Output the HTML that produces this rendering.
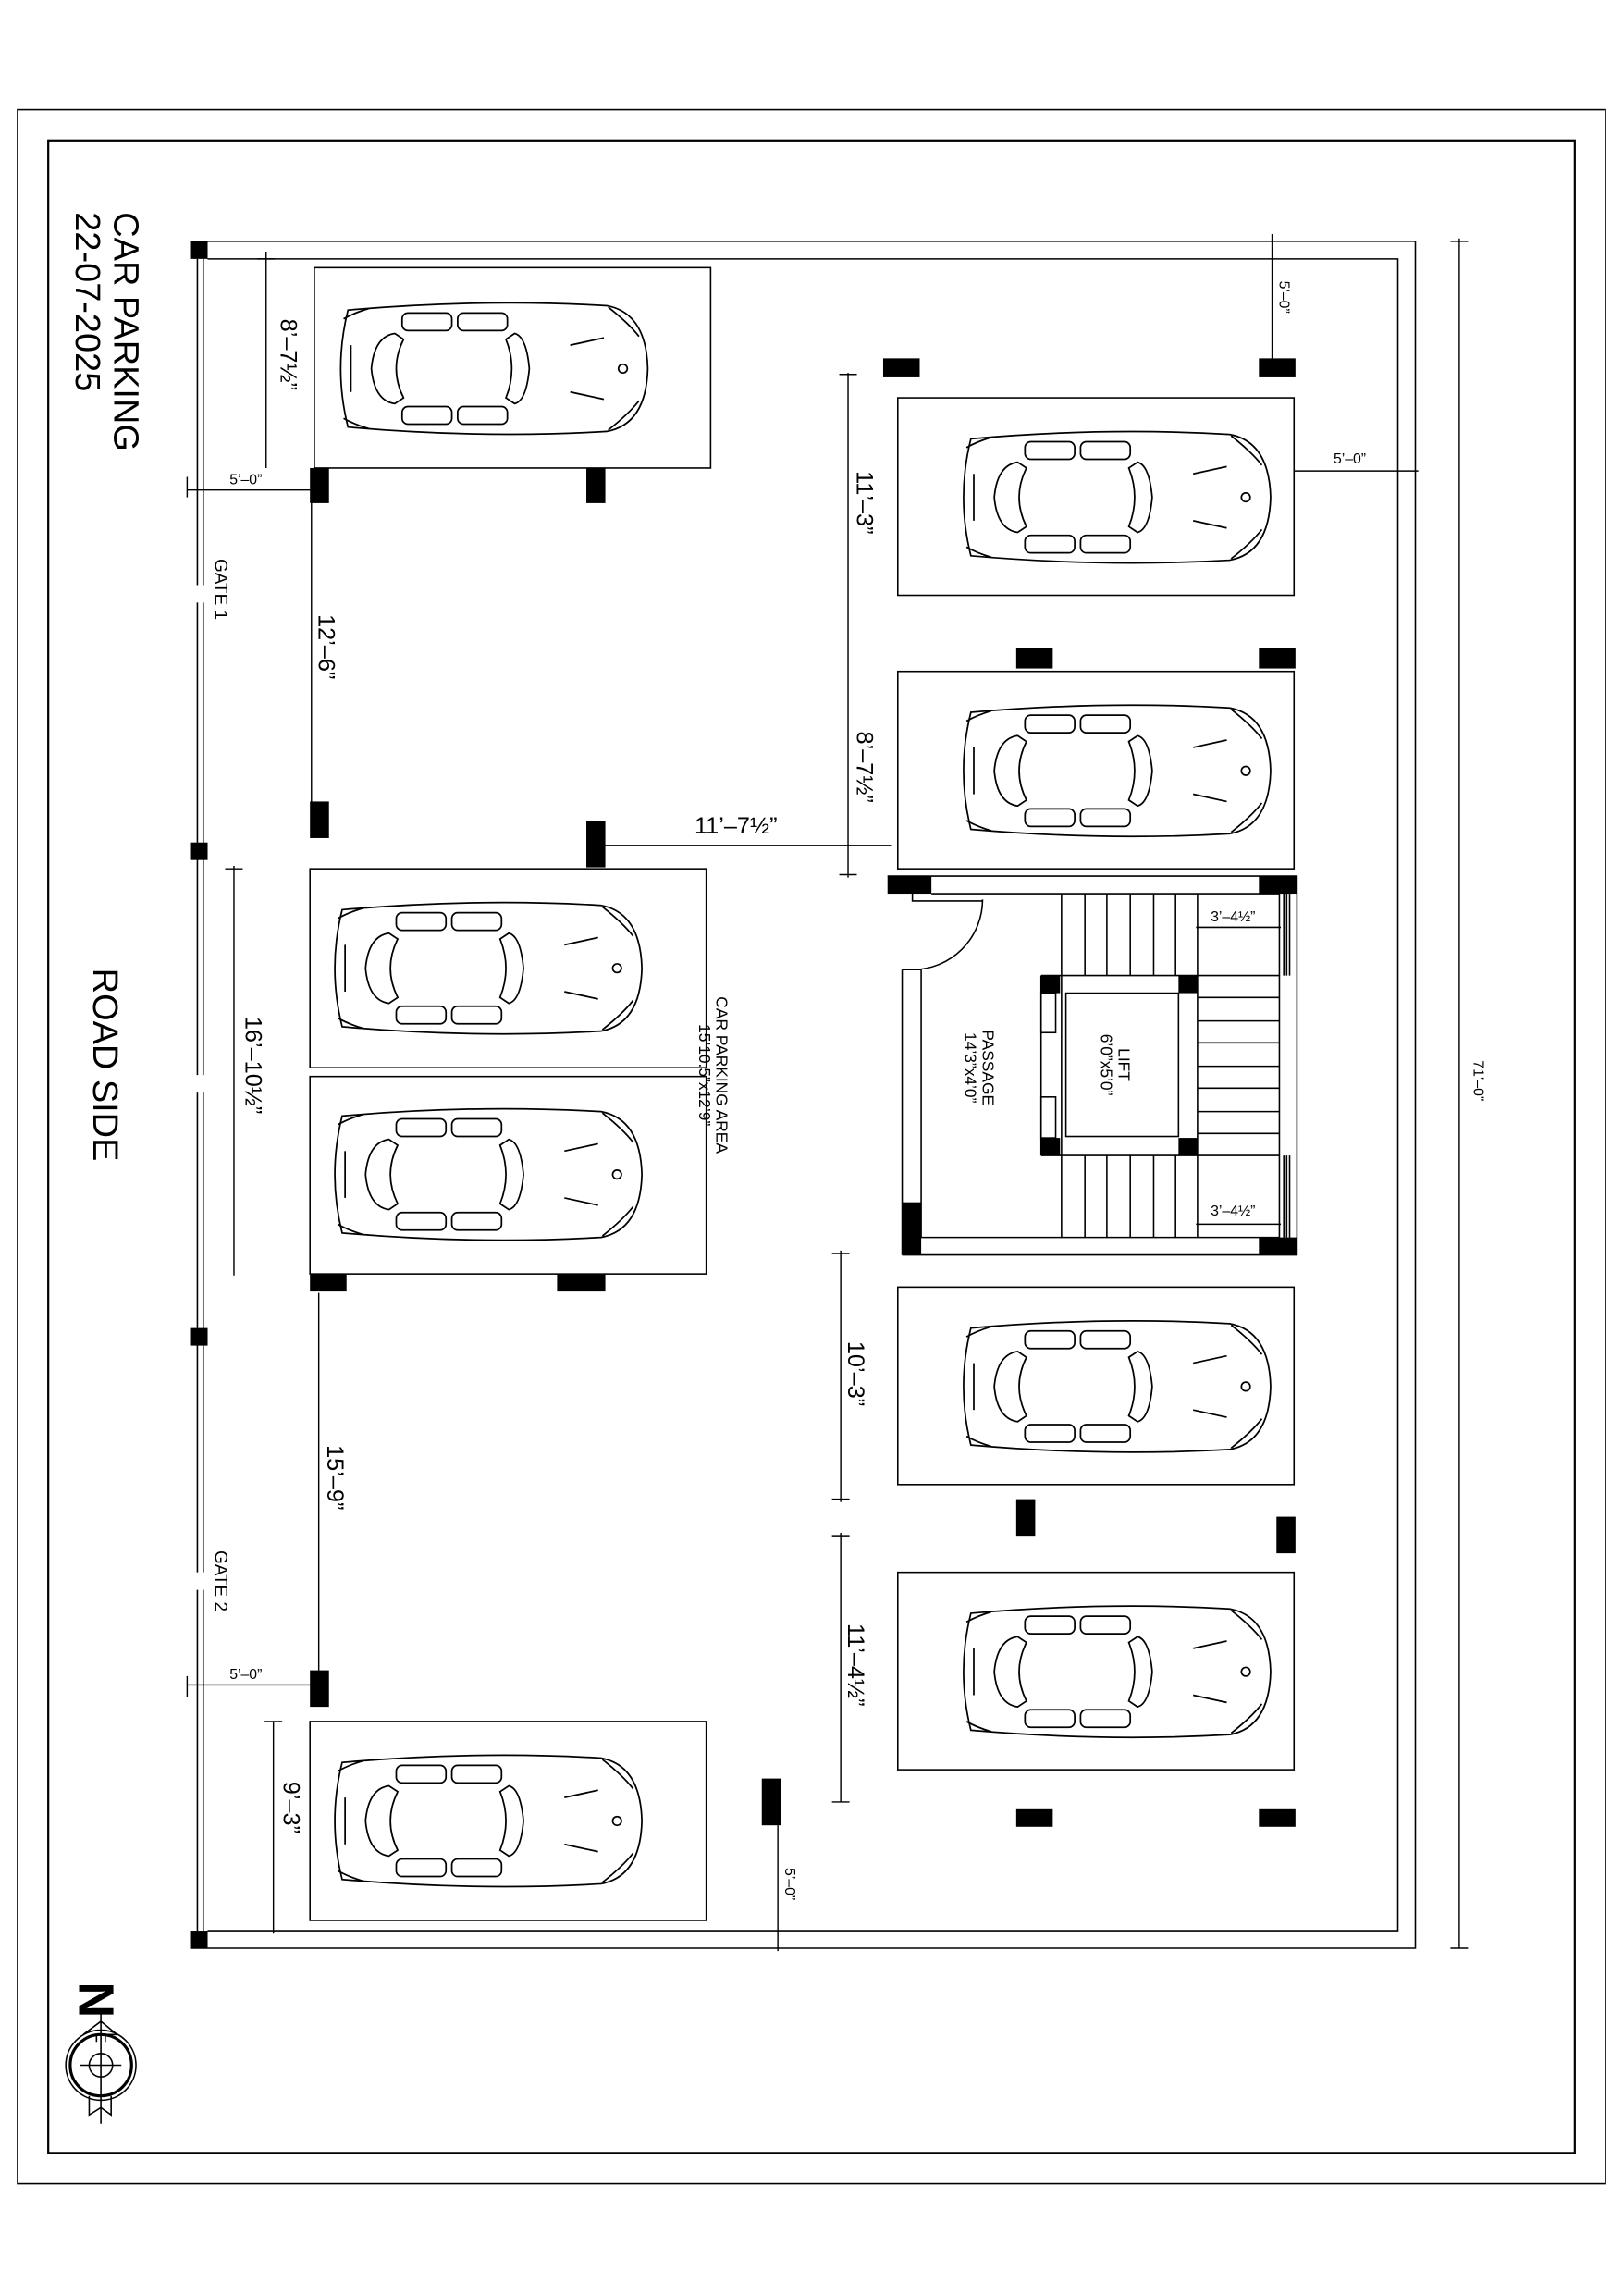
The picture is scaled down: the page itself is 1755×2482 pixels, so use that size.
<!DOCTYPE html>
<html><head><meta charset="utf-8"><style>html,body{margin:0;padding:0;background:#fff}svg{display:block}text{font-family:"Liberation Sans",sans-serif;fill:#000}</style></head>
<body>
<svg width="1755" height="2482" viewBox="0 0 1110 1569.8" xmlns="http://www.w3.org/2000/svg">
<defs>
<g id="car" fill="none" stroke="#000" stroke-width="1.1">
<path d="M8,6 Q100,-2 185,3 Q212,8 213,46 Q212,84 185,89 Q100,94 8,86 Q-2,46 8,6 Z"/>
<path d="M5,12 Q12,8 22,5 M5,80 Q12,84 22,87"/>
<path d="M186,4 Q200,15 207,24 M186,88 Q200,77 207,68"/>
<rect x="45" y="8" width="34" height="12" rx="4"/><rect x="83" y="8" width="34" height="12" rx="4"/>
<rect x="45" y="72" width="34" height="12" rx="4"/><rect x="83" y="72" width="34" height="12" rx="4"/>
<path d="M40,22 Q26,24 24,46 Q26,68 40,70 L46,66 Q36,46 46,26 Z"/>
<path d="M122,22 Q130,24 132,46 Q130,68 122,70 L116,66 Q124,46 116,26 Z"/>
<path d="M10,30 L10,62"/>
<path d="M160,30 L183,25 M160,62 L183,67"/>
<circle cx="196" cy="46" r="3"/>
</g>
<g id="col"><rect width="1" height="1" fill="#000"/></g>
</defs>
<g fill="none" stroke="#000" stroke-width="1">
<rect x="12" y="75" width="1086" height="1418"/>
<rect x="33" y="96" width="1044" height="1376" stroke-width="1.4"/>
<!-- plot walls -->
<path d="M130,165 H968 V1332 H130 M142,177 H956 V1320 H142"/>
<path d="M135,177 V400 M135,412 V735 M135,747 V1075 M135,1087 V1320 M139,177 V400 M139,412 V735 M139,747 V1075 M139,1087 V1320"/>
<!-- car boxes -->
<rect x="215" y="183" width="271" height="137"/>
<rect x="212" y="594" width="271" height="136"/>
<rect x="212" y="736" width="271" height="135"/>
<rect x="212" y="1177" width="271" height="136"/>
<rect x="614" y="272" width="271" height="135"/>
<rect x="614" y="459" width="271" height="135"/>
<rect x="614" y="880" width="271" height="135"/>
<rect x="614" y="1075" width="271" height="135"/>
</g>
<use href="#car" x="230" y="206"/>
<use href="#car" x="226" y="616"/>
<use href="#car" x="226" y="757"/>
<use href="#car" x="226" y="1199"/>
<use href="#car" x="656" y="294"/>
<use href="#car" x="656" y="481"/>
<use href="#car" x="656" y="902"/>
<use href="#car" x="656" y="1097"/>
<!-- columns -->
<g fill="#000">
<rect x="130" y="165" width="12" height="12"/><rect x="130" y="576" width="12" height="12"/>
<rect x="130" y="908" width="12" height="12"/><rect x="130" y="1320" width="12" height="12"/>
<rect x="212" y="320" width="13" height="24"/><rect x="401" y="320" width="13" height="24"/>
<rect x="212" y="548" width="13" height="25"/><rect x="401" y="561" width="13" height="32"/>
<rect x="212" y="871" width="25" height="12"/><rect x="381" y="871" width="33" height="12"/>
<rect x="212" y="1142" width="13" height="25"/><rect x="521" y="1216" width="13" height="32"/>
<rect x="604" y="245" width="25" height="13"/><rect x="861" y="245" width="25" height="13"/>
<rect x="695" y="443" width="25" height="14"/><rect x="861" y="443" width="25" height="14"/>
<rect x="607" y="599" width="30" height="12"/><rect x="861" y="599" width="26" height="12"/>
<rect x="617" y="822" width="13" height="36"/><rect x="861" y="846" width="26" height="12"/>
<rect x="695" y="1025" width="13" height="25"/><rect x="873" y="1037" width="13" height="25"/>
<rect x="695" y="1237" width="25" height="12"/><rect x="861" y="1237" width="25" height="12"/>
<rect x="712" y="667" width="13" height="12"/><rect x="806" y="667" width="13" height="12"/>
<rect x="712" y="778" width="13" height="12"/><rect x="806" y="778" width="13" height="12"/>
</g>
<!-- stair block -->
<g fill="none" stroke="#000" stroke-width="1">
<path d="M607,599 H887 V858 H617 M637,611 H875 M630,846 H875"/>
<path d="M617,663 V858 M630,663 V846 M617,663 H630"/>
<path d="M624,611 V616 H672 M672,615 A48,48 0 0 1 624,663"/>
<path d="M726,611 V846 M742,611 V667 M757,611 V667 M773,611 V667 M789,611 V667 M804,611 V667 M819,611 V846"/>
<path d="M742,790 V846 M757,790 V846 M773,790 V846 M789,790 V846 M804,790 V846"/>
<path d="M712,667 H875 M712,790 H875 M712,667 V790"/>
<rect x="729" y="679" width="77" height="98"/>
<path d="M819,682 H875 M819,698 H875 M819,713 H875 M819,729 H875 M819,744 H875 M819,760 H875 M819,775 H875"/>
<path d="M875,611 V846 M878,611 V667 M880,611 V667 M882,611 V667 M878,790 V846 M880,790 V846 M882,790 V846"/>
<rect x="712" y="679" width="10" height="27"/><rect x="712" y="750" width="10" height="28"/>
<path d="M818,634 H876 M818,837 H876"/>
</g>
<!-- dimension lines -->
<g fill="none" stroke="#000" stroke-width="0.9">
<path d="M182,172 V320 M128,335 H215 M213,344 V548 M160,592 V872 M218,884 V1142 M128,1152 H215 M187,1177 V1322 M532,1248 V1334"/>
<path d="M580,255 V445 M580,445 V600 M414,578 H610 M870,160 V245 M885,322 H970 M575,855 V1027 M575,1048 V1232 M998,163 V1332"/>
<path d="M992,165 H1004 M992,1332 H1004 M176,177 H188 M154,594 H166 M181,1177 H193 M128,326 V340 M128,1146 V1160 M574,256 H586 M574,598 H586 M569,857 H581 M569,1025 H581 M569,1050 H581 M569,1232 H581"/>
</g>
<!-- texts -->
<g font-size="24" transform="translate(78,145) rotate(90)"><text x="0" y="0">CAR PARKING</text><text x="0" y="26">22-07-2025</text></g>
<text font-size="24" transform="translate(64,662) rotate(90)">ROAD SIDE</text>
<g font-size="12" transform="translate(147,382) rotate(90)"><text>GATE 1</text></g>
<g font-size="12" transform="translate(147,1060) rotate(90)"><text>GATE 2</text></g>
<g font-size="16">
<text transform="translate(192,218) rotate(90)">8’–7½”</text>
<text transform="translate(218,420) rotate(90)">12’–6”</text>
<text transform="translate(168,695) rotate(90)">16’–10½”</text>
<text transform="translate(224,988) rotate(90)">15’–9”</text>
<text transform="translate(194,1218) rotate(90)">9’–3”</text>
<text transform="translate(586,322) rotate(90)">11’–3”</text>
<text transform="translate(586,500) rotate(90)">8’–7½”</text>
<text transform="translate(580,917) rotate(90)">10’–3”</text>
<text transform="translate(580,1110) rotate(90)">11’–4½”</text>
<text x="475" y="570">11’–7½”</text>
</g>
<g font-size="10">
<text x="157" y="331">5’–0”</text>
<text x="157" y="1148">5’–0”</text>
<text x="912" y="317">5’–0”</text>
<text transform="translate(875,192) rotate(90)">5’–0”</text>
<text transform="translate(537,1277) rotate(90)">5’–0”</text>
<text x="828" y="630">3’–4½”</text>
<text x="828" y="831">3’–4½”</text>
<text transform="translate(1008,725) rotate(90)">71’–0”</text>
</g>
<g font-size="11">
<g transform="translate(490,735) rotate(90)"><text x="0" y="0" text-anchor="middle">CAR PARKING AREA</text><text x="0" y="12" text-anchor="middle">15’10.5”x12’9”</text></g>
<g transform="translate(672,730) rotate(90)"><text x="0" y="0" text-anchor="middle">PASSAGE</text><text x="0" y="12" text-anchor="middle">14’3”x4’0”</text></g>
<g transform="translate(765,728) rotate(90)"><text x="0" y="0" text-anchor="middle">LIFT</text><text x="0" y="12" text-anchor="middle">6’0”x5’0”</text></g>
</g>
<!-- north -->
<g stroke="#000" fill="none">
<text font-size="34" font-weight="bold" transform="translate(54,1355) rotate(90)" stroke="none">N</text>
<circle cx="69" cy="1412" r="24" stroke-width="1"/>
<circle cx="69" cy="1412" r="21" stroke-width="2"/>
<circle cx="69" cy="1412" r="8"/>
<path d="M69,1375 V1452 M55,1412 H83"/>
<path d="M57,1391 L69,1382 L80,1391 L72,1391 L72,1396 M66,1396 V1391 Z"/>
<path d="M61,1433 L61,1446 L69,1441 L76,1446 L76,1433"/>
</g>
</svg>
</body></html>
